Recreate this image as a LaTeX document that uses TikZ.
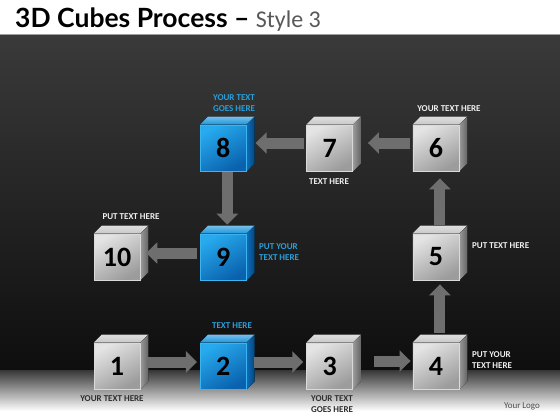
\documentclass[tikz,border=0pt]{standalone}
\usepackage{fontspec}
\setmainfont{Carlito}
\newfontfamily\headfont{Lato}
\usetikzlibrary{arrows.meta,positioning}

\definecolor{bgtop}{HTML}{3A3A3A}
\definecolor{bgbottom}{HTML}{0E0E0E}
\definecolor{floortop}{HTML}{363636}
\definecolor{labelblue}{HTML}{2A9FDA}
\definecolor{arrowgray}{HTML}{6E6E6E}
\definecolor{silverA}{HTML}{E4E4E4}
\definecolor{silverB}{HTML}{9C9C9C}
\definecolor{silverC}{HTML}{C8C8C8}
\definecolor{silverD}{HTML}{9A9A9A}
\definecolor{silverE}{HTML}{DADADA}
\definecolor{blueA}{HTML}{27AAEE}
\definecolor{blueB}{HTML}{0A62AE}
\definecolor{blueC}{HTML}{1C95DC}
\definecolor{blueD}{HTML}{0B6CBA}
\definecolor{blueE}{HTML}{3DB4F0}

\tikzset{
  cubebase/.style n args={5}{minimum size=46pt, inner sep=0pt, draw=#5, line width=0.7pt,
    top color=#1, bottom color=#2, shading angle=30, text=black,
    font=\bfseries\fontsize{28pt}{28pt}\selectfont,
    append after command={\pgfextra{
      \fill[top color=#3!60!white, bottom color=#3] (\tikzlastnode.north west) -- ++(8pt,8pt)
        -- ([shift={(8pt,8pt)}]\tikzlastnode.north east) -- (\tikzlastnode.north east) -- cycle;
      \fill[left color=#4, right color=#4!65!black] (\tikzlastnode.north east) -- ++(8pt,8pt)
        -- ([shift={(8pt,8pt)}]\tikzlastnode.south east) -- (\tikzlastnode.south east) -- cycle;
    }}},
  cube/.style={cubebase={silverA}{silverB}{silverC}{silverD}{silverE}},
  bluecube/.style={cubebase={blueA}{blueB}{blueC}{blueD}{blueE}},
  flow/.style={line width=11pt, draw=arrowgray, -{Triangle[length=11pt,width=21pt]}},
  lbl/.style={font=\bfseries\fontsize{9pt}{11pt}\selectfont, inner sep=1pt, align=center},
  whitelbl/.style={lbl, text=white!94!black},
  bluelbl/.style={lbl, text=labelblue},
  darklbl/.style={lbl, text=black!82}
}

\begin{document}
\begin{tikzpicture}[x=1pt, y=-1pt, node distance=106.3pt]
\useasboundingbox (0,0) rectangle (560,420);
% background
\fill[white] (0,0) rectangle (560,420);
\shade[top color=bgtop, bottom color=bgbottom] (0,35) rectangle (560,370);
\shade[top color=floortop, bottom color=white] (0,370) rectangle (560,411);
\draw[gray!75, line width=1pt] (0,34.5) -- (560,34.5);

\node (title) [anchor=base west, inner sep=0pt] at (15,28)
  {\headfont\fontsize{26.5pt}{28pt}\selectfont\bfseries 3D Cubes Process \textendash{}
   {\normalfont\fontsize{24pt}{28pt}\selectfont\color{black!65}Style 3}};

% cubes
\node (c1) [cube] at (117,366) {1};
\node (c2) [bluecube, right of=c1] {2};
\node (c3) [cube, right of=c2] {3};
\node (c4) [cube, right of=c3] {4};
\node (c5) [cube, above of=c4, node distance=109pt] {5};
\node (c6) [cube, above of=c5, node distance=109pt] {6};
\node (c7) [cube, left of=c6] {7};
\node (c8) [bluecube, left of=c7] {8};
\node (c9) [bluecube, below of=c8, node distance=109pt] {9};
\node (c10) [cube, left of=c9] {10};

% arrows
\draw[flow, shorten <=7pt, shorten >=3pt] ([yshift=4pt]c1.east) -- ([yshift=4pt]c2.west);
\draw[flow, shorten <=7pt, shorten >=3pt] ([yshift=4pt]c2.east) -- ([yshift=4pt]c3.west);
\draw[flow, shorten <=21pt, shorten >=2pt] ([yshift=5pt]c3.east) -- ([yshift=5pt]c4.west);
\draw[flow, shorten <=10pt, shorten >=4pt] ([xshift=4pt]c4.north) -- ([xshift=4pt]c5.south);
\draw[flow, shorten <=9pt, shorten >=7pt] ([xshift=4pt]c5.north) -- ([xshift=4pt]c6.south);
\draw[flow, shorten <=3pt, shorten >=15pt] ([yshift=5pt]c6.west) -- ([yshift=5pt]c7.east);
\draw[flow, shorten <=2pt, shorten >=9pt] ([yshift=5pt]c7.west) -- ([yshift=5pt]c8.east);
\draw[flow, shorten <=1pt, shorten >=9pt] ([xshift=4pt]c8.south) -- ([xshift=4pt]c9.north);
\draw[flow, shorten <=3pt, shorten >=6pt] ([yshift=4pt]c9.west) -- ([yshift=4pt]c10.east);

% labels
\node (t1) [darklbl] at (112,399) {YOUR TEXT HERE};
\node (t2) [bluelbl] at (232,326) {TEXT HERE};
\node (t3) [darklbl] at (332,404) {YOUR TEXT\\GOES HERE};
\node (t4) [whitelbl, anchor=west, align=left] at (471,360.5) {PUT YOUR\\TEXT HERE};
\node (t5) [whitelbl, anchor=west] at (471,246) {PUT TEXT HERE};
\node (t6) [whitelbl] at (449,109) {YOUR TEXT HERE};
\node (t7) [whitelbl] at (329,182) {TEXT HERE};
\node (t8) [bluelbl] at (234,103) {YOUR TEXT\\GOES HERE};
\node (t9) [bluelbl, anchor=west, align=left] at (258,252) {PUT YOUR\\TEXT HERE};
\node (t10) [whitelbl] at (131,217) {PUT TEXT HERE};
\node (logo) [font=\fontsize{9pt}{11pt}\selectfont, text=black!70] at (522,406) {Your Logo};
\end{tikzpicture}
\end{document}
